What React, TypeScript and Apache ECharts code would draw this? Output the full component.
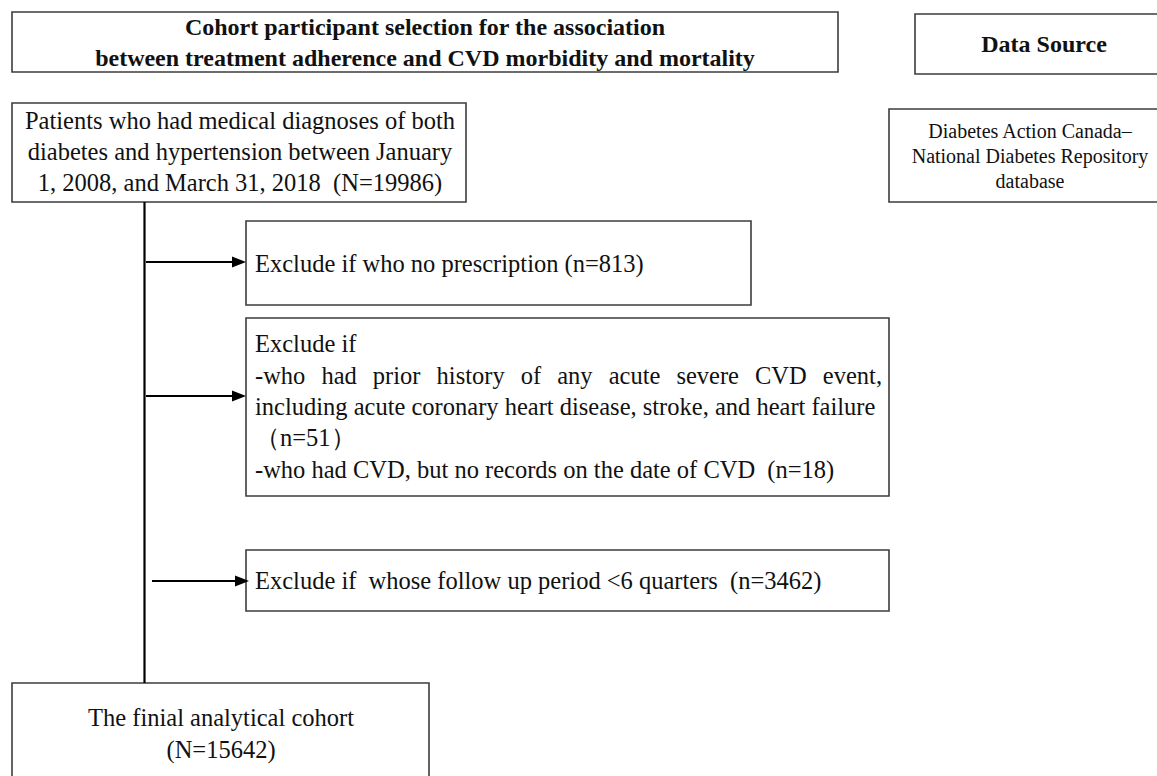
import React, { useEffect, useRef } from "react";
import * as echarts from "echarts";

// ---- Data ----
const cohortTitle = [
  "Cohort participant selection for the association",
  "between treatment adherence and CVD morbidity and mortality",
];
const sourceTitle = "Data Source";
const sourceLines = ["Diabetes Action Canada\u2013", "National Diabetes Repository", "database"];
const initialLines = [
  "Patients who had medical diagnoses of both",
  "diabetes and hypertension between January",
  "1, 2008, and March 31, 2018",
];
const initialCount = 19986;
const exclusionCounts = [813, 51, 18, 3462];
const finalLabel = "The finial analytical cohort";
const finalCount = 15642;

const SERIF = '"Liberation Serif", "Times New Roman", serif';
const BODY = `24.5px ${SERIF}`;
const BORDER = "#3c3c3c";
const TXT = "#111";

function measure(text: string, font: string): number {
  const c = document.createElement("canvas").getContext("2d");
  if (!c) return text.length * 10;
  c.font = font;
  return c.measureText(text).width;
}

function rect(x: number, y: number, w: number, h: number) {
  return {
    type: "rect",
    shape: { x, y, width: w, height: h },
    style: { fill: "#fff", stroke: BORDER, lineWidth: 1.6 },
  };
}

function text(t: string, x: number, y: number, font: string, align = "left", lh = 31.5) {
  return {
    type: "text",
    x,
    y,
    style: {
      text: t,
      font,
      fill: TXT,
      textAlign: align,
      textVerticalAlign: "middle",
      align,
      verticalAlign: "middle",
      lineHeight: lh,
    },
  };
}

function arrow(x1: number, x2: number, y: number) {
  return [
    {
      type: "line",
      shape: { x1, y1: y, x2: x2 - 12, y2: y },
      style: { stroke: "#000", lineWidth: 2 },
    },
    {
      type: "polygon",
      shape: { points: [[x2 - 14, y - 5.5], [x2, y], [x2 - 14, y + 5.5]] },
      style: { fill: "#000" },
    },
  ];
}

function justified(line: string, left: number, right: number, y: number, font: string) {
  const words = line.split(" ");
  const widths = words.map((w) => measure(w, font));
  const total = widths.reduce((a, b) => a + b, 0);
  const gap = (right - left - total) / (words.length - 1);
  let x = left;
  return words.map((w, i) => {
    const el = text(w, x, y, font, "left");
    x += widths[i] + gap;
    return el;
  });
}

export default function App() {
  const ref = useRef<HTMLDivElement>(null);
  useEffect(() => {
    if (!ref.current) return;
    const chart = echarts.init(ref.current, null, { renderer: "svg" });
    const [nNoRx, nPrior, nNoDate, nFollow] = exclusionCounts;
    const elements: any[] = [
      // boxes
      rect(12, 12, 826, 60),
      rect(915, 14, 260, 60),
      rect(12, 103, 454, 99),
      rect(889, 109, 285, 93),
      rect(246, 221, 505, 84),
      rect(246, 318, 643, 178),
      rect(246, 550, 643, 61),
      rect(12, 683, 417, 120),
      // connector
      {
        type: "line",
        shape: { x1: 144.5, y1: 202, x2: 144.5, y2: 683 },
        style: { stroke: "#000", lineWidth: 2.2 },
      },
      ...arrow(146, 246, 262),
      ...arrow(146, 246, 396),
      ...arrow(152, 249, 581),
      // texts
      text(cohortTitle.join("\n"), 425, 42, `bold 24px ${SERIF}`, "center", 31),
      text(sourceTitle, 1044, 44, `bold 24px ${SERIF}`, "center"),
      text(sourceLines.join("\n"), 1030, 156, `20px ${SERIF}`, "center", 25),
      text(
        [...initialLines.slice(0, 2), `${initialLines[2]}  (N=${initialCount})`].join("\n"),
        240,
        151.5,
        BODY,
        "center",
        31
      ),
      text(`Exclude if who no prescription (n=${nNoRx})`, 255, 263, BODY),
      text("Exclude if", 255, 343.5, BODY),
      ...justified("-who had prior history of any acute severe CVD event,", 255, 882, 375, BODY),
      text("including acute coronary heart disease, stroke, and heart failure", 255, 406, BODY),
      text(`\uFF08n=${nPrior}\uFF09`, 255, 437.5, BODY),
      text(`-who had CVD, but no records on the date of CVD  (n=${nNoDate})`, 255, 469.5, BODY),
      text(`Exclude if  whose follow up period <6 quarters  (n=${nFollow})`, 255, 580, BODY),
      text(`${finalLabel}\n(N=${finalCount})`, 221, 733, BODY, "center", 32),
    ];
    chart.setOption({ animation: false, graphic: { elements } });
    return () => chart.dispose();
  }, []);
  return (
    <div
      ref={ref}
      style={{ position: "fixed", left: 0, top: 0, width: 1157, height: 776, background: "#fff" }}
    />
  );
}
